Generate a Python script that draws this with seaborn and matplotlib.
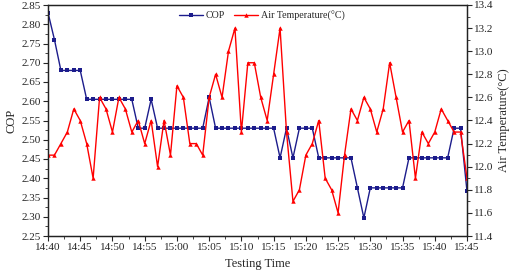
import numpy as np
import pandas as pd
import matplotlib
matplotlib.use("Agg")
import matplotlib.pyplot as plt
import seaborn as sns
from matplotlib.ticker import MultipleLocator

sns.set_style("ticks")
plt.rcParams['font.family'] = ['Liberation Serif', 'DejaVu Serif']

# minutes after 14:40, one reading per minute
minutes = np.arange(66)
tick_labels = ['14:40', '14:45', '14:50', '14:55', '15:00', '15:05', '15:10',
               '15:15', '15:20', '15:25', '15:30', '15:35', '15:40', '15:45']

cop = [2.83, 2.76, 2.68, 2.68, 2.68, 2.68, 2.605, 2.605, 2.605, 2.605,
       2.605, 2.605, 2.605, 2.605, 2.53, 2.53, 2.605, 2.53, 2.53, 2.53,
       2.53, 2.53, 2.53, 2.53, 2.53, 2.61, 2.53, 2.53, 2.53, 2.53,
       2.53, 2.53, 2.53, 2.53, 2.53, 2.53, 2.453, 2.53, 2.453, 2.53,
       2.53, 2.53, 2.453, 2.453, 2.453, 2.453, 2.453, 2.453, 2.375, 2.297,
       2.375, 2.375, 2.375, 2.375, 2.375, 2.375, 2.453, 2.453, 2.453, 2.453,
       2.453, 2.453, 2.453, 2.53, 2.53, 2.366]

air_temp = [12.1, 12.1, 12.2, 12.3, 12.5, 12.4, 12.2, 11.9, 12.6, 12.5,
            12.3, 12.6, 12.5, 12.3, 12.4, 12.2, 12.4, 12.0, 12.4, 12.1,
            12.7, 12.6, 12.2, 12.2, 12.1, 12.6, 12.8, 12.6, 13.0, 13.2,
            12.3, 12.9, 12.9, 12.6, 12.4, 12.8, 13.2, 12.3, 11.7, 11.8,
            12.1, 12.2, 12.4, 11.9, 11.8, 11.6, 12.1, 12.5, 12.4, 12.6,
            12.5, 12.3, 12.5, 12.9, 12.6, 12.3, 12.4, 11.9, 12.3, 12.2,
            12.3, 12.5, 12.4, 12.3, 12.3, 11.9]

df = pd.DataFrame({'minute': minutes, 'COP': cop, 'temp': air_temp})

fig, ax = plt.subplots(figsize=(5.12, 2.76), dpi=100)
fig.subplots_adjust(left=48/512, right=467/512, top=1-5/276, bottom=1-236/276)
ax2 = ax.twinx()

sns.lineplot(data=df, x='minute', y='COP', ax=ax, color='#1c1c8c', lw=1,
             marker='s', markersize=2.6, markeredgewidth=0, label='COP', legend=False)
sns.lineplot(data=df, x='minute', y='temp', ax=ax2, color='#ff0000', lw=1,
             marker='^', markersize=3.2, markeredgewidth=0,
             label='Air Temperature(°C)', legend=False)

ax.set_xlim(0, 65)
ax.set_xticks(np.arange(0, 66, 5))
ax.set_xticklabels(tick_labels)
ax.xaxis.set_minor_locator(MultipleLocator(2.5))

ax.set_ylim(2.25, 2.85)
ax.yaxis.set_major_locator(MultipleLocator(0.05))
ax.yaxis.set_minor_locator(MultipleLocator(0.025))
ax2.set_ylim(11.4, 13.4)
ax2.yaxis.set_major_locator(MultipleLocator(0.2))
ax2.yaxis.set_minor_locator(MultipleLocator(0.1))
ax.yaxis.set_major_formatter(plt.FormatStrFormatter('%.2f'))
ax2.yaxis.set_major_formatter(plt.FormatStrFormatter('%.1f'))

for a in (ax, ax2):
    a.tick_params(which='major', direction='out', length=3.5, width=0.8, labelsize=8, pad=1.5)
    a.tick_params(which='minor', direction='out', length=2, width=0.6)
    for s in a.spines.values():
        s.set_linewidth(0.9)
        s.set_color('#222222')

ax.set_xlabel('Testing Time', fontsize=9, labelpad=4)
ax.set_ylabel('COP', fontsize=9, labelpad=3)
ax2.set_ylabel('Air Temperature(°C)', fontsize=9, labelpad=3)

h1, l1 = ax.get_legend_handles_labels()
h2, l2 = ax2.get_legend_handles_labels()
ax.legend(h1 + h2, l1 + l2, loc='upper center', bbox_to_anchor=(0.51, 1.015),
          ncol=2, frameon=False, fontsize=7.2, handlelength=2.4,
          columnspacing=0.9, handletextpad=0.3)

fig.savefig('out.png', dpi=100)
